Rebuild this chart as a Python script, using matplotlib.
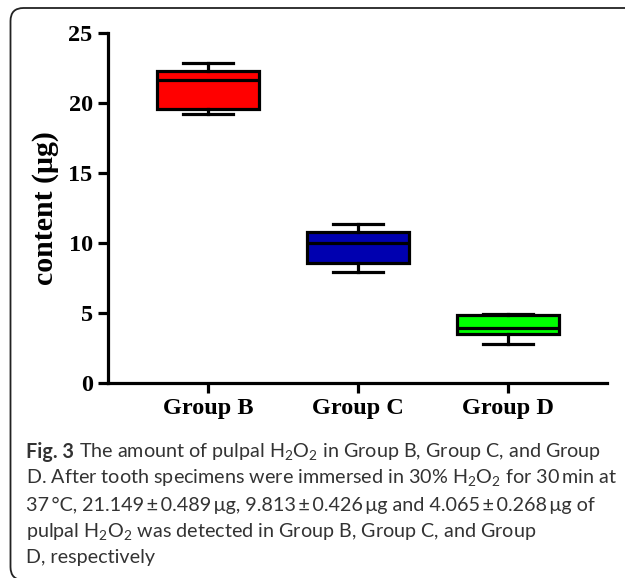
import matplotlib
matplotlib.use("Agg")
import matplotlib.pyplot as plt
from matplotlib.path import Path
from matplotlib.patches import PathPatch

# ---- data ----
groups = ["Group B", "Group C", "Group D"]
whislo = [19.2, 7.93, 2.8]
q1 = [19.57, 8.55, 3.5]
med = [21.64, 9.98, 3.95]
q3 = [22.29, 10.79, 4.83]
whishi = [22.86, 11.34, 4.95]
colors = ["#ff0000", "#0000b0", "#00ff00"]
yticks = [0, 5, 10, 15, 20, 25]
ylabel = "content (μg)"
caption_lines = [
    r"The amount of pulpal H$_2$O$_2$ in Group B, Group C, and Group",
    "D. After tooth specimens were immersed in 30% H$_2$O$_2$ for 30\u2009min at",
    "37\u2009°C, 21.149\u2009±\u20090.489\u2009μg, 9.813\u2009±\u20090.426\u2009μg and 4.065\u2009±\u20090.268\u2009μg of",
    r"pulpal H$_2$O$_2$ was detected in Group B, Group C, and Group",
    "D, respectively",
]
caption_bold = "Fig. 3"

W, H = 625, 578
CAP_FONT = "Lato"
plt.rcParams["mathtext.fontset"] = "custom"
plt.rcParams["mathtext.rm"] = CAP_FONT
plt.rcParams["mathtext.it"] = CAP_FONT + ":italic"
plt.rcParams["mathtext.bf"] = CAP_FONT + ":bold"

fig = plt.figure(figsize=(W / 100, H / 100), dpi=100)

x_left, x_right, y_top, y_bot = 108, 607, 33, 383
ax = fig.add_axes([x_left / W, 1 - y_bot / H, (x_right - x_left) / W, (y_bot - y_top) / H])

stats = []
for i, g in enumerate(groups):
    stats.append(dict(label=g, whislo=whislo[i], q1=q1[i], med=med[i], q3=q3[i], whishi=whishi[i], fliers=[]))

lw = 2.3
bp = ax.bxp(stats, positions=[1, 2, 3], widths=0.68, patch_artist=True, showfliers=False,
            boxprops=dict(linewidth=lw, edgecolor="black"),
            medianprops=dict(color="black", linewidth=lw),
            whiskerprops=dict(color="black", linewidth=lw),
            capprops=dict(color="black", linewidth=lw),
            capwidths=0.33)
for patch, c in zip(bp["boxes"], colors):
    patch.set_facecolor(c)

ax.set_xlim(0.333, 3.66)
ax.set_ylim(0, 25)
ax.set_yticks(yticks)
ax.set_yticklabels([str(t) for t in yticks])
ax.set_xticks([1, 2, 3])
ax.set_xticklabels(groups)
for s in ["top", "right"]:
    ax.spines[s].set_visible(False)
for s in ["left", "bottom"]:
    ax.spines[s].set_linewidth(2.3)
ax.tick_params(axis="both", width=2.3, length=7, labelsize=17.5, pad=4)
for lab in ax.get_xticklabels() + ax.get_yticklabels():
    lab.set_fontfamily("Liberation Serif")
    lab.set_fontweight("bold")
ax.set_ylabel(ylabel, fontfamily="Liberation Serif", fontweight="bold", fontsize=21.5)
ax.yaxis.set_label_coords(-0.098, 0.5)

# ---- frame (rounded, open at right) ----
r = 13
left, top, bottom = 10.5, 8, 580
verts = [(W, top), (left + r, top), (left, top), (left, top + r), (left, bottom - r), (left, bottom), (left + r, bottom), (W, bottom)]
codes = [Path.MOVETO, Path.LINETO, Path.CURVE3, Path.CURVE3, Path.LINETO, Path.CURVE3, Path.CURVE3, Path.LINETO]
verts_fig = [(x / W, 1 - y / H) for x, y in verts]
fig.add_artist(PathPatch(Path(verts_fig, codes), transform=fig.transFigure, fill=False,
                         edgecolor="#222222", linewidth=1.3, clip_on=False))

# ---- caption (font size fitted so line 1 spans the reference width) ----
fam = [CAP_FONT, "DejaVu Sans"]
x0_px, x_end_px = 26, 602
ys = [452, 478, 505, 531, 557]
sp = 5


def draw_caption(size):
    texts = []
    tb = fig.text(x0_px / W, 1 - ys[0] / H, caption_bold, fontfamily=fam, fontweight="bold", fontsize=size,
                  va="center", ha="left", color="#333333")
    texts.append(tb)
    fig.canvas.draw()
    bb = tb.get_window_extent(fig.canvas.get_renderer())
    t1 = fig.text((bb.x1 + sp) / W, 1 - ys[0] / H, caption_lines[0], fontfamily=fam, fontsize=size,
                  va="center", ha="left", color="#333333")
    texts.append(t1)
    for line, y in zip(caption_lines[1:], ys[1:]):
        texts.append(fig.text(x0_px / W, 1 - y / H, line, fontfamily=fam, fontsize=size,
                              va="center", ha="left", color="#333333"))
    fig.canvas.draw()
    return texts, t1.get_window_extent(fig.canvas.get_renderer()).x1


size0 = 14.0
texts, x1 = draw_caption(size0)
size = size0 * (x_end_px - x0_px) / (x1 - x0_px)
for t in texts:
    t.remove()
texts, x1 = draw_caption(size)

fig.savefig("out.png", dpi=100)
